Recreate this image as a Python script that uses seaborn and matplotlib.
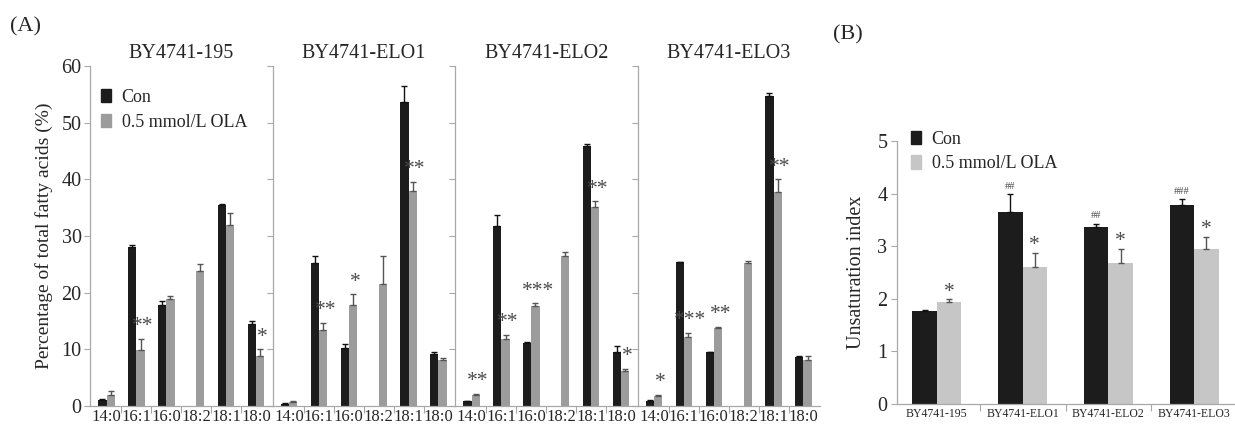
import matplotlib
matplotlib.use("Agg")
import matplotlib.pyplot as plt
from matplotlib.patches import Patch
import seaborn as sns
import pandas as pd

# ---------------- data ----------------
fatty_acids = ["14:0", "16:1", "16:0", "18:2", "18:1", "18:0"]
strains = ["BY4741-195", "BY4741-ELO1", "BY4741-ELO2", "BY4741-ELO3"]
groups = ["Con", "0.5 mmol/L OLA"]

con_195 = [1.1, 28.1, 17.9, 0.0, 35.5, 14.4]
con_195_err = [0.1, 0.3, 0.6, 0.0, 0.1, 0.6]
ola_195 = [1.9, 9.8, 18.9, 23.9, 32.0, 8.8]
ola_195_err = [0.7, 2.1, 0.5, 1.1, 2.0, 1.2]
sig_195 = ["", "**", "", "", "", "*"]

con_elo1 = [0.4, 25.2, 10.3, 0.0, 53.7, 9.1]
con_elo1_err = [0.1, 1.3, 0.6, 0.0, 2.8, 0.4]
ola_elo1 = [0.7, 13.4, 17.9, 21.6, 37.9, 8.2]
ola_elo1_err = [0.2, 1.2, 1.8, 4.8, 1.6, 0.3]
sig_elo1 = ["", "**", "*", "", "**", ""]

con_elo2 = [0.8, 31.8, 11.2, 0.0, 45.9, 9.6]
con_elo2_err = [0.1, 1.9, 0.1, 0.0, 0.3, 1.0]
ola_elo2 = [2.0, 11.8, 17.6, 26.5, 35.2, 6.2]
ola_elo2_err = [0.2, 0.7, 0.5, 0.7, 0.9, 0.3]
sig_elo2 = ["**", "**", "***", "", "**", "*"]

con_elo3 = [0.9, 25.4, 9.5, 0.0, 54.7, 8.6]
con_elo3_err = [0.1, 0.1, 0.1, 0.0, 0.6, 0.3]
ola_elo3 = [1.8, 12.1, 13.7, 25.3, 37.8, 8.2]
ola_elo3_err = [0.2, 0.8, 0.3, 0.3, 2.2, 0.6]
sig_elo3 = ["*", "***", "**", "", "**", ""]

ui_con = [1.76, 3.65, 3.37, 3.79]
ui_con_err = [0.02, 0.34, 0.06, 0.10]
ui_ola = [1.93, 2.61, 2.69, 2.94]
ui_ola_err = [0.06, 0.27, 0.26, 0.24]
ui_sig_con = ["", "##", "##", "###"]
ui_sig_ola = ["*", "*", "*", "*"]

panel_a = [
    (con_195, con_195_err, ola_195, ola_195_err, sig_195),
    (con_elo1, con_elo1_err, ola_elo1, ola_elo1_err, sig_elo1),
    (con_elo2, con_elo2_err, ola_elo2, ola_elo2_err, sig_elo2),
    (con_elo3, con_elo3_err, ola_elo3, ola_elo3_err, sig_elo3),
]

# ---------------- style ----------------
sns.set_style("white")
plt.rcParams["font.family"] = ["Liberation Serif", "DejaVu Serif"]

CON_COLOR = "#1c1c1c"
OLA_A = "#9c9c9c"
OLA_B = "#c6c6c6"
SPINE = "#a8a8a8"
STAR = "#4a4a4a"

W, H = 1235, 428
fig = plt.figure(figsize=(W / 100, H / 100), dpi=100)


def px_axes(x0, x1, ytop, ybot):
    return fig.add_axes([x0 / W, 1 - ybot / H, (x1 - x0) / W, (ybot - ytop) / H])


def style_axes(ax, major_len=4):
    for s in ["top", "right"]:
        ax.spines[s].set_visible(False)
    for s in ["left", "bottom"]:
        ax.spines[s].set_color(SPINE)
        ax.spines[s].set_linewidth(0.9)
    ax.tick_params(axis="y", direction="out", length=major_len, color=SPINE, width=0.8, left=True)
    ax.tick_params(axis="x", which="major", length=0)
    ax.tick_params(axis="x", which="minor", direction="out", length=5, color=SPINE, width=0.8, bottom=True)


def draw_errors(ax, errs_by_group, colors):
    for cont, errs, col in zip(ax.containers, errs_by_group, colors):
        for patch, e in zip(cont, errs):
            h = patch.get_height()
            if h <= 0 or e <= 0:
                continue
            xc = patch.get_x() + patch.get_width() / 2
            ax.errorbar([xc], [h], yerr=[[0], [e]], fmt="none", ecolor=col,
                        elinewidth=1.0, capsize=2.5, capthick=1.0, zorder=3)


# ---------------- panel A ----------------
a_left, a_step = 90, 182.5
for i, (strain, (con, con_e, ola, ola_e, sig)) in enumerate(zip(strains, panel_a)):
    ax = px_axes(a_left + i * a_step, a_left + (i + 1) * a_step, 66, 406)
    df = pd.DataFrame({
        "fa": fatty_acids * 2,
        "group": [groups[0]] * 6 + [groups[1]] * 6,
        "value": con + ola,
    })
    sns.barplot(data=df, x="fa", y="value", hue="group", order=fatty_acids,
                hue_order=groups, palette={groups[0]: CON_COLOR, groups[1]: OLA_A},
                width=0.55, errorbar=None, saturation=1, linewidth=0,
                legend=False, ax=ax)
    draw_errors(ax, [con_e, ola_e], ["#111111", "#555555"])
    # significance marks above OLA bars
    for patch, e, s in zip(ax.containers[1], ola_e, sig):
        if s:
            xc = patch.get_x() + patch.get_width() / 2
            ax.text(xc + 0.08, patch.get_height() + e + 0.5, s, ha="center", va="bottom",
                    fontsize=15.5, color=STAR)
    ax.set_ylim(0, 60)
    ax.set_yticks(range(0, 61, 10))
    ax.set_xticks(range(len(fatty_acids)))
    ax.set_xticks([k + 0.5 for k in range(len(fatty_acids) - 1)], minor=True)
    ax.set_xticklabels(fatty_acids, fontsize=12)
    ax.set_xlabel("")
    style_axes(ax)
    ax.tick_params(axis="x", which="major", pad=2)
    ax.set_title(strain, fontsize=14.5, pad=6)
    if i == 0:
        ax.set_ylabel("Percentage of total fatty acids (%)", fontsize=14, labelpad=6)
        ax.tick_params(axis="y", labelsize=14.5, pad=2)
        handles = [Patch(color=CON_COLOR), Patch(color=OLA_A)]
        ax.legend(handles, groups, loc="upper left", bbox_to_anchor=(0.02, 0.955),
                  frameon=False, fontsize=13, handlelength=0.55, handleheight=0.75,
                  handletextpad=0.6, labelspacing=0.45, borderaxespad=0)
    else:
        ax.set_ylabel("")
        ax.tick_params(axis="y", labelleft=False)

fig.text(10 / W, 1 - 27 / H, "(A)", fontsize=16, va="center", ha="left")

# ---------------- panel B ----------------
axb = px_axes(897, 1234, 141, 404)
dfb = pd.DataFrame({
    "strain": strains * 2,
    "group": [groups[0]] * 4 + [groups[1]] * 4,
    "value": ui_con + ui_ola,
})
sns.barplot(data=dfb, x="strain", y="value", hue="group", order=strains,
            hue_order=groups, palette={groups[0]: CON_COLOR, groups[1]: OLA_B},
            width=0.57, errorbar=None, saturation=1, linewidth=0, legend=False, ax=axb)
draw_errors(axb, [ui_con_err, ui_ola_err], ["#111111", "#555555"])
for patch, e, s in zip(axb.containers[0], ui_con_err, ui_sig_con):
    if s:
        xc = patch.get_x() + patch.get_width() / 2
        axb.text(xc, patch.get_height() + e + 0.06, s, ha="center", va="bottom",
                 fontsize=7.5, color=STAR)
for patch, e, s in zip(axb.containers[1], ui_ola_err, ui_sig_ola):
    if s:
        xc = patch.get_x() + patch.get_width() / 2
        axb.text(xc, patch.get_height() + e - 0.05, s, ha="center", va="bottom",
                 fontsize=15.5, color=STAR)
axb.set_ylim(0, 5)
axb.set_yticks(range(0, 6))
axb.set_xticks(range(len(strains)))
axb.set_xticks([k + 0.5 for k in range(len(strains) - 1)], minor=True)
axb.set_xticklabels(strains, fontsize=8.5)
axb.set_xlabel("")
axb.set_ylabel("Unsaturation index", fontsize=14.5, labelpad=8)
style_axes(axb)
axb.tick_params(axis="y", labelsize=14.5, pad=3)
axb.tick_params(axis="x", which="major", pad=3)
handles_b = [Patch(color=CON_COLOR), Patch(color=OLA_B)]
axb.legend(handles_b, groups, loc="upper left", bbox_to_anchor=(0.02, 1.065),
           frameon=False, fontsize=13, handlelength=0.55, handleheight=0.75,
           handletextpad=0.6, labelspacing=0.4, borderaxespad=0)

fig.text(833 / W, 1 - 35 / H, "(B)", fontsize=16, va="center", ha="left")

fig.savefig("out.png", dpi=100)
